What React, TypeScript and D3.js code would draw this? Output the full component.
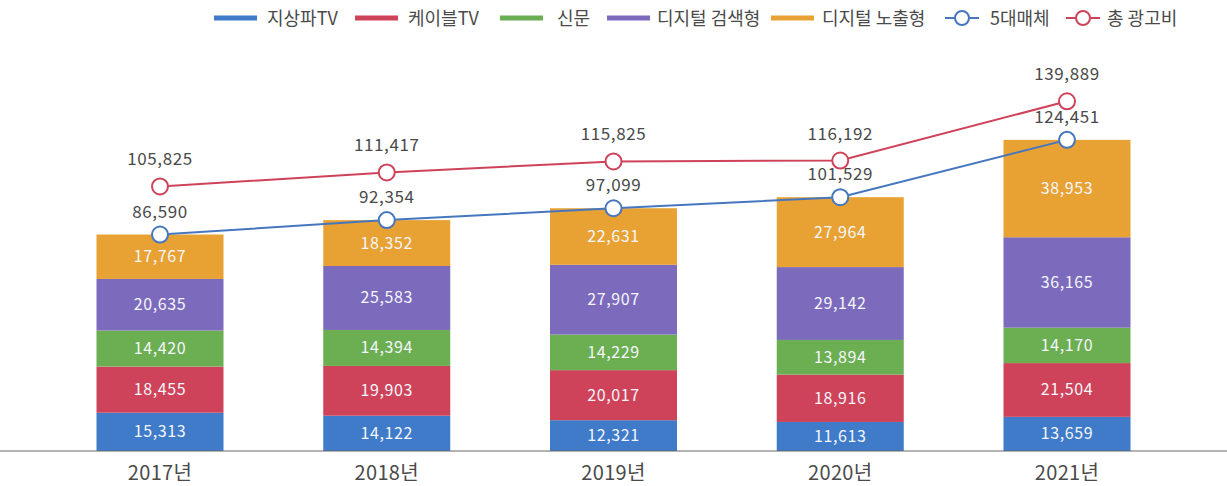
import React, { useEffect, useRef } from 'react';
import * as d3 from 'd3';

const years = ['2017년', '2018년', '2019년', '2020년', '2021년'];
const seriesNames = ['지상파TV', '케이블TV', '신문', '디지털 검색형', '디지털 노출형'];
const terrestrial = [15313, 14122, 12321, 11613, 13659];
const cable = [18455, 19903, 20017, 18916, 21504];
const newspaper = [14420, 14394, 14229, 13894, 14170];
const digitalSearch = [20635, 25583, 27907, 29142, 36165];
const digitalDisplay = [17767, 18352, 22631, 27964, 38953];
const fiveMedia = [86590, 92354, 97099, 101529, 124451];
const totalAd = [105825, 111417, 115825, 116192, 139889];

const barColors = ['#3f7bc8', '#cf435a', '#6cae52', '#7c6bbc', '#e8a234'];
const lineBlue = '#4677be';
const lineRed = '#cf435a';
const FONT = '"Noto Sans CJK KR", "Noto Sans", sans-serif';

const W = 1227;
const H = 486;

const App = () => {
  const ref = useRef<SVGSVGElement | null>(null);

  useEffect(() => {
    document.body.style.margin = '0';
    const svg = d3.select(ref.current);
    svg.selectAll('*').remove();

    const x = d3.scalePoint<string>().domain(years).range([160, 1067]);
    const y = d3.scaleLinear().domain([0, 140000]).range([451, 101]);
    const barW = 127;

    // stacked bars
    const rows = years.map((yr, i) => ({
      year: yr,
      s0: terrestrial[i], s1: cable[i], s2: newspaper[i], s3: digitalSearch[i], s4: digitalDisplay[i],
    }));
    const stack = d3.stack<any>().keys(['s0', 's1', 's2', 's3', 's4'])(rows);

    stack.forEach((layer, li) => {
      const g = svg.append('g');
      g.selectAll('rect')
        .data(layer)
        .enter()
        .append('rect')
        .attr('x', d => (x(d.data.year) as number) - barW / 2)
        .attr('y', d => y(d[1]))
        .attr('width', barW)
        .attr('height', d => y(d[0]) - y(d[1]))
        .attr('fill', barColors[li]);
      g.selectAll('text')
        .data(layer)
        .enter()
        .append('text')
        .attr('x', d => x(d.data.year) as number)
        .attr('y', d => (y(d[0]) + y(d[1])) / 2 + 5.5)
        .attr('text-anchor', 'middle')
        .attr('fill', '#f4f6fb')
        .style('font-size', '16px')
        .style('letter-spacing', '0.6px')
        .style('font-family', FONT)
        .text(d => d3.format(',')(d[1] - d[0]));
    });

    // axis baseline
    svg.append('line')
      .attr('x1', 0).attr('x2', W)
      .attr('y1', y(0)).attr('y2', y(0))
      .attr('stroke', '#666').attr('stroke-width', 1.2);

    svg.selectAll('.year')
      .data(years)
      .enter()
      .append('text')
      .attr('x', d => x(d) as number)
      .attr('y', 480)
      .attr('text-anchor', 'middle')
      .attr('fill', '#4a4a4a')
      .style('font-size', '20px')
      .style('letter-spacing', '0.3px')
      .style('font-family', FONT)
      .text(d => d);

    // lines
    const line = d3.line<number>()
      .x((_, i) => x(years[i]) as number)
      .y(d => y(d));

    const lineSeries: [number[], string, number][] = [
      [totalAd, lineRed, 21],
      [fiveMedia, lineBlue, 17],
    ];
    lineSeries.forEach(([v, color, off]) => {
      svg.append('path')
        .attr('d', line(v))
        .attr('fill', 'none')
        .attr('stroke', color)
        .attr('stroke-width', 2);
      svg.append('g').selectAll('circle')
        .data(v)
        .enter()
        .append('circle')
        .attr('cx', (_, i) => x(years[i]) as number)
        .attr('cy', d => y(d))
        .attr('r', 8)
        .attr('fill', '#fff')
        .attr('stroke', color)
        .attr('stroke-width', 2);
      svg.append('g').selectAll('text')
        .data(v)
        .enter()
        .append('text')
        .attr('x', (_, i) => x(years[i]) as number)
        .attr('y', d => y(d) - off)
        .attr('text-anchor', 'middle')
        .attr('fill', '#4a4a4a')
        .style('font-size', '17px')
        .style('letter-spacing', '0.6px')
        .style('font-family', FONT)
        .text(d => d3.format(',')(d));
    });

    // legend
    const legend = svg.append('g').attr('transform', 'translate(0,18)');
    const barLegendX = [214, 355, 500, 607, 771];
    const barLegendTextX = [267, 408, 557, 657, 822];
    seriesNames.forEach((name, i) => {
      const gx = barLegendX[i];
      legend.append('line')
        .attr('x1', gx).attr('x2', gx + 43)
        .attr('y1', 0).attr('y2', 0)
        .attr('stroke', barColors[i]).attr('stroke-width', 5);
      legend.append('text')
        .attr('x', barLegendTextX[i]).attr('y', 6.5)
        .attr('fill', '#4a4a4a')
        .style('font-size', '18px')
        .style('font-family', FONT)
        .text(name);
    });
    const lineLegend: [string, string, number, number][] = [
      ['5대매체', lineBlue, 945, 990],
      ['총 광고비', lineRed, 1066, 1107],
    ];
    lineLegend.forEach(([name, color, gx, tx]) => {
      legend.append('line')
        .attr('x1', gx).attr('x2', gx + 34)
        .attr('y1', 0).attr('y2', 0)
        .attr('stroke', color).attr('stroke-width', 2);
      legend.append('circle')
        .attr('cx', gx + 17).attr('cy', 0).attr('r', 7)
        .attr('fill', '#fff').attr('stroke', color).attr('stroke-width', 2);
      legend.append('text')
        .attr('x', tx).attr('y', 6.5)
        .attr('fill', '#4a4a4a')
        .style('font-size', '18px')
        .style('font-family', FONT)
        .text(name);
    });
  }, []);

  return <svg ref={ref} width={W} height={H} style={{ display: 'block', background: '#fff' }} />;
};

export default App;
